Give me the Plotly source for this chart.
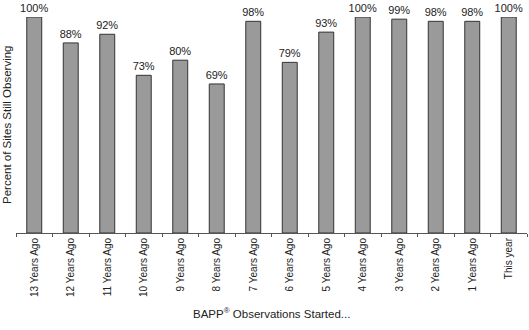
import plotly.graph_objects as go

categories = ["13 Years Ago", "12 Years Ago", "11 Years Ago", "10 Years Ago", "9 Years Ago",
              "8 Years Ago", "7 Years Ago", "6 Years Ago", "5 Years Ago", "4 Years Ago",
              "3 Years Ago", "2 Years Ago", "1 Years Ago", "This year"]
percent_still = [100, 88, 92, 73, 80, 69, 98, 79, 93, 100, 99, 98, 98, 100]

fig = go.Figure(go.Bar(
    x=categories,
    y=percent_still,
    width=0.41,
    marker=dict(color="#9a9a9a", line=dict(color="#333333", width=1)),
    texttemplate="%{y}%",
    textposition="outside",
    textfont=dict(family="Arial, Liberation Sans", size=11, color="#222222"),
    constraintext="none",
    cliponaxis=False,
))

fig.update_layout(
    width=529, height=330,
    margin=dict(l=16, r=2, t=17, b=97),
    paper_bgcolor="white", plot_bgcolor="white",
    showlegend=False,
    font=dict(family="Arial, Liberation Sans", color="#222222"),
    xaxis=dict(
        showline=True, linecolor="#555555", linewidth=1,
        ticks="outside", ticklen=3, tickcolor="#555555", tickson="boundaries",
        tickangle=-90, tickfont=dict(size=10, color="#222222"),
        showgrid=False,
    ),
    yaxis=dict(range=[0, 100], showticklabels=False, showgrid=False, zeroline=False,
               showline=False, ticks=""),
    annotations=[
        dict(text="Percent of Sites Still Observing", xref="paper", yref="paper",
             x=0, y=0.5, xshift=-9, xanchor="center", yanchor="middle",
             textangle=-90, showarrow=False, font=dict(size=11.5, color="#222222")),
        dict(text="BAPP<sup>®</sup> Observations Started...", xref="paper", yref="paper",
             x=0.5, y=0, yshift=-80, xanchor="center", yanchor="middle",
             showarrow=False, font=dict(size=11.5, color="#222222")),
    ],
)

fig.write_html("out.html")
